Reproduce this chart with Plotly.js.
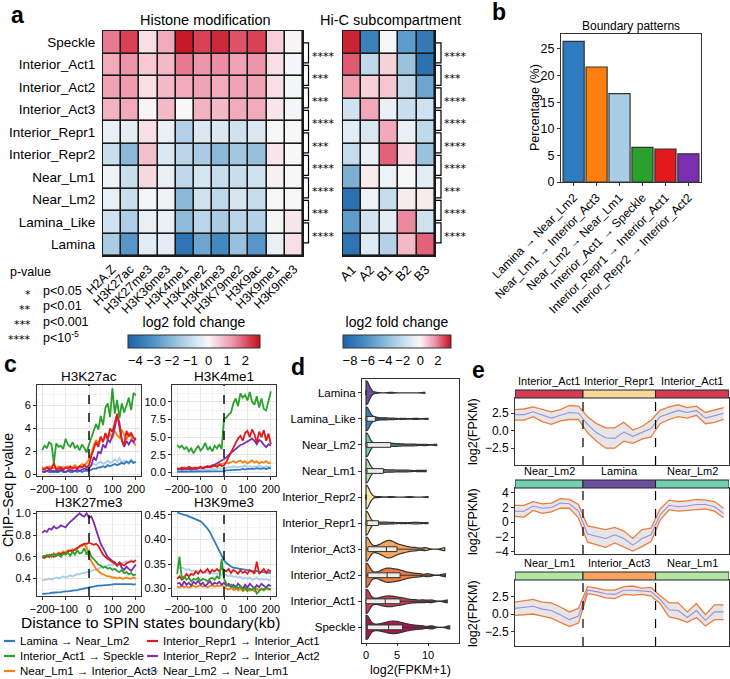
<!DOCTYPE html>
<html>
<head>
<meta charset="utf-8">
<script src="https://cdn.plot.ly/plotly-3.0.1.min.js"></script>
<style>
  html, body { margin: 0; padding: 0; background: #fff; }
  #chart { width: 730px; height: 679px; }
</style>
</head>
<body>
<div id="chart"></div>
<script>
const W = 730, H = 679;
const FONT = 'Liberation Sans, Arial, sans-serif';
const px = v => v / W;
const py = v => 1 - v / H;
const xdom = (a, b) => [a / W, b / W];
const ydom = (top, bottom) => [1 - bottom / H, 1 - top / H];

// ---------- panel a: heatmaps ----------
const states = ['Speckle', 'Interior_Act1', 'Interior_Act2', 'Interior_Act3', 'Interior_Repr1',
  'Interior_Repr2', 'Near_Lm1', 'Near_Lm2', 'Lamina_Like', 'Lamina'];
const histoneMarks = ['H2A.Z', 'H3K27ac', 'H3K27me3', 'H3K36me3', 'H3K4me1', 'H3K4me2',
  'H3K4me3', 'H3K79me2', 'H3K9ac', 'H3K9me1', 'H3K9me3'];
const histoneFC = [
  [1.6, 2.2, 0.3, 1.0, 2.7, 2.2, 2.5, 2.0, 2.2, 0.5, 0.05],
  [1.0, 1.3, 0.6, 0.8, 1.6, 1.3, 1.4, 1.1, 1.3, 0.3, -0.1],
  [1.1, 1.2, 0.3, 0.8, 1.0, 1.1, 1.0, 1.1, 1.1, 0.3, -0.1],
  [0.9, 1.0, 0.05, 0.8, 0.0, 0.9, 0.8, 1.0, 1.0, 0.2, -0.1],
  [-0.3, -0.4, 0.3, -0.3, -1.3, -0.6, -0.6, -0.8, -0.6, 0.0, 0.0],
  [-0.9, -2.0, 0.7, -0.6, -1.2, -1.5, -2.0, -1.6, -1.8, 0.2, 0.0],
  [-0.2, -0.9, 0.4, -0.3, -1.1, -0.7, -1.0, -0.9, -0.8, 0.1, 0.0],
  [-0.3, -0.9, -0.1, -0.2, -2.0, -0.8, -1.1, -0.7, -1.0, -0.05, 0.0],
  [-0.8, -1.4, -0.3, -0.3, -1.9, -1.2, -1.5, -1.2, -1.3, -0.1, 0.2],
  [-1.5, -2.9, -0.5, -0.4, -3.9, -2.5, -3.3, -1.8, -2.9, -0.3, 0.3]
];
const subcomps = ['A1', 'A2', 'B1', 'B2', 'B3'];
const hicFC = [
  [3.2, -7.0, 0.0, -5.5, -7.5],
  [2.4, -2.2, 0.6, -3.5, -8.0],
  [1.4, 0.6, 0.8, -2.2, -5.0],
  [-1.6, 1.3, -0.6, -1.8, -1.6],
  [-0.9, -1.3, 1.3, -0.6, -2.2],
  [-2.0, -0.6, 2.3, 0.4, -3.5],
  [-4.5, 0.2, -0.5, 0.0, -0.9],
  [-8.0, -0.5, -2.0, 0.2, 0.2],
  [-5.5, -1.5, -0.8, 1.8, -1.6],
  [-7.8, -1.1, -2.6, 1.0, 2.3]
];
const histoneStars = ['****', '***', '***', '****', '***', '****', '****', '***', '****'];
const hicStars = ['****', '***', '****', '****', '****', '****', '***', '****', '****'];
const pLevels = ['*', '**', '***', '****'];
const pTexts = ['p<0.05', 'p<0.01', 'p<0.001', 'p<10<sup>-5</sup>'];

// ---------- panel b ----------
const patterns = ['Lamina → Near_Lm2', 'Near_Lm1 → Interior_Act3', 'Near_Lm2 → Near_Lm1',
  'Interior_Act1 → Speckle', 'Interior_Repr1 → Interior_Act1', 'Interior_Repr2 → Interior_Act2'];
const patternPct = [26.4, 21.6, 16.6, 6.5, 6.2, 5.3];

// ---------- panel c ----------
const seriesNames = ['Lamina → Near_Lm2', 'Interior_Act1 → Speckle', 'Near_Lm1 → Interior_Act3',
  'Interior_Repr1 → Interior_Act1', 'Interior_Repr2 → Interior_Act2', 'Near_Lm2 → Near_Lm1'];
const seriesColors = ['#2f7bbf', '#2ca02c', '#ff7f0e', '#e31a1c', '#7a2fb0', '#a9cde6'];
const distKb = [-200, -190, -180, -170, -160, -150, -140, -130, -120, -110, -100, -90, -80, -70,
  -60, -50, -40, -30, -20, -10, 0, 10, 20, 30, 40, 50, 60, 70, 80, 90, 100, 110, 120, 130, 140,
  150, 160, 170, 180, 190, 200];
const h3k27ac = [
  [0.2, 0.2, 0.3, 0.2, 0.2, 0.3, 0.2, 0.2, 0.3, 0.2, 0.2, 0.3, 0.2, 0.2, 0.3, 0.2, 0.3, 0.2, 0.3, 0.3, 0.3, 0.4, 0.5, 0.5, 0.6, 0.6, 0.7, 0.6, 0.8, 0.7, 0.8, 0.9, 0.8, 0.9, 1.0, 0.9, 1.1, 1.0, 1.2, 1.0, 1.1],
  [2.1, 2.5, 2.3, 2.8, 2.6, 1.0, 2.7, 2.4, 2.5, 2.2, 3.1, 2.6, 2.4, 2.8, 2.3, 2.5, 2.1, 2.6, 2.3, 1.9, 2.6, 3.2, 3.6, 4.4, 3.9, 5.1, 4.3, 5.8, 6.2, 5.0, 7.5, 5.3, 6.5, 4.9, 6.2, 5.4, 6.0, 6.7, 5.6, 7.1, 6.9],
  [0.6, 0.5, 0.6, 0.7, 0.5, 0.6, 0.5, 0.7, 0.6, 0.5, 0.6, 0.7, 0.5, 0.6, 0.8, 0.6, 0.7, 0.9, 0.8, 1.0, 1.3, 1.8, 2.5, 3.0, 2.7, 3.2, 2.9, 3.4, 3.0, 3.6, 3.1, 3.8, 3.4, 3.2, 3.9, 3.5, 3.0, 3.6, 3.3, 2.8, 2.5],
  [0.5, 0.4, 0.6, 0.5, 0.5, 1.0, 0.4, 0.5, 0.6, 0.4, 0.6, 0.5, 0.7, 0.5, 0.6, 0.5, 0.7, 0.6, 0.8, 0.6, 0.8, 1.6, 2.3, 2.8, 2.4, 3.3, 2.8, 3.6, 3.1, 4.0, 3.7, 4.4, 5.3, 4.1, 3.0, 2.5, 3.8, 3.3, 3.6, 3.2, 3.0],
  [0.3, 0.2, 0.3, 0.4, 0.3, 0.2, 0.3, 0.3, 0.4, 0.3, 0.2, 0.3, 0.4, 0.3, 0.3, 0.4, 0.3, 0.4, 0.5, 0.4, 0.5, 0.8, 1.5, 1.2, 2.0, 1.8, 2.6, 2.3, 3.0, 2.8, 3.4, 4.0, 5.2, 4.5, 3.0, 2.4, 2.9, 2.6, 3.0, 2.8, 3.2],
  [0.5, 0.6, 0.5, 0.6, 0.7, 0.5, 0.6, 0.5, 0.6, 0.7, 0.6, 0.5, 0.6, 0.5, 0.7, 0.6, 0.5, 0.6, 0.7, 0.6, 0.6, 0.8, 0.9, 0.8, 1.0, 1.1, 0.9, 1.0, 1.2, 1.0, 1.1, 1.3, 1.1, 1.4, 1.0, 1.2, 1.1, 0.9, 1.3, 1.0, 1.1]
];
const h3k4me1 = [
  [0.1, 0.1, 0.2, 0.1, 0.1, 0.2, 0.1, 0.1, 0.2, 0.1, 0.1, 0.2, 0.1, 0.2, 0.1, 0.2, 0.2, 0.1, 0.2, 0.2, 0.2, 0.3, 0.3, 0.3, 0.4, 0.3, 0.4, 0.4, 0.5, 0.4, 0.5, 0.5, 0.4, 0.5, 0.6, 0.5, 0.5, 0.6, 0.5, 0.6, 0.6],
  [3.9, 3.5, 3.8, 3.3, 3.6, 3.0, 3.4, 2.7, 3.3, 3.8, 3.1, 3.5, 4.2, 3.2, 3.6, 3.0, 3.8, 3.4, 4.0, 3.3, 7.6, 7.8, 8.2, 8.5, 9.8, 10.5, 9.4, 11.2, 10.6, 11.0, 10.2, 11.4, 10.0, 9.6, 10.8, 9.2, 10.5, 9.0, 8.8, 10.2, 11.5],
  [0.6, 0.5, 0.6, 0.7, 0.6, 0.5, 0.6, 0.7, 0.6, 0.7, 0.8, 0.7, 0.8, 0.9, 0.8, 1.0, 0.9, 1.1, 1.2, 1.2, 1.3, 1.4, 1.3, 1.5, 1.6, 1.4, 1.5, 1.7, 1.4, 1.6, 1.3, 1.5, 1.7, 1.4, 1.6, 1.3, 1.5, 1.4, 1.6, 1.3, 1.4],
  [0.6, 0.5, 0.7, 0.6, 0.5, 0.8, 0.6, 0.5, 0.7, 0.6, 0.8, 0.6, 0.7, 0.9, 0.7, 0.8, 1.0, 0.8, 1.1, 0.9, 1.0, 1.5, 2.2, 3.0, 3.5, 4.2, 4.8, 5.2, 4.5, 5.6, 5.9, 5.0, 6.1, 5.4, 4.2, 5.8, 5.0, 6.0, 4.5, 5.5, 4.0],
  [0.4, 0.5, 0.4, 0.5, 0.6, 0.5, 0.4, 0.6, 0.5, 0.6, 0.7, 0.6, 0.8, 0.7, 0.9, 1.0, 1.1, 1.3, 1.5, 1.6, 1.8, 2.1, 2.5, 2.8, 3.0, 3.4, 3.6, 3.9, 4.0, 4.2, 4.3, 4.6, 4.8, 4.5, 4.0, 4.6, 4.4, 3.9, 3.6, 4.0, 3.8],
  [0.3, 0.4, 0.3, 0.4, 0.3, 0.4, 0.5, 0.3, 0.4, 0.3, 0.4, 0.5, 0.4, 0.3, 0.4, 0.5, 0.4, 0.5, 0.6, 0.5, 0.6, 0.7, 0.8, 0.7, 0.9, 0.8, 0.7, 0.9, 0.8, 1.0, 0.8, 0.9, 0.7, 0.9, 0.8, 1.0, 0.8, 0.7, 0.9, 0.8, 0.9]
];
const h3k27me3 = [
  [0.26, 0.26, 0.265, 0.265, 0.27, 0.27, 0.27, 0.275, 0.275, 0.28, 0.28, 0.28, 0.285, 0.29, 0.29, 0.295, 0.30, 0.305, 0.31, 0.315, 0.32, 0.325, 0.33, 0.33, 0.335, 0.335, 0.34, 0.34, 0.34, 0.345, 0.345, 0.35, 0.35, 0.35, 0.355, 0.35, 0.355, 0.35, 0.35, 0.345, 0.35],
  [0.60, 0.61, 0.60, 0.62, 0.60, 0.63, 0.61, 0.62, 0.60, 0.63, 0.62, 0.64, 0.61, 0.65, 0.62, 0.66, 0.63, 0.64, 0.68, 0.62, 0.66, 0.60, 0.58, 0.55, 0.53, 0.52, 0.50, 0.51, 0.49, 0.50, 0.48, 0.49, 0.47, 0.46, 0.48, 0.45, 0.46, 0.44, 0.45, 0.43, 0.44],
  [0.59, 0.60, 0.62, 0.60, 0.61, 0.63, 0.62, 0.64, 0.63, 0.65, 0.64, 0.66, 0.65, 0.67, 0.66, 0.68, 0.69, 0.70, 0.71, 0.69, 0.60, 0.56, 0.52, 0.49, 0.47, 0.45, 0.44, 0.43, 0.42, 0.42, 0.41, 0.41, 0.40, 0.41, 0.40, 0.40, 0.41, 0.40, 0.40, 0.41, 0.40],
  [0.60, 0.59, 0.61, 0.60, 0.62, 0.60, 0.61, 0.63, 0.62, 0.64, 0.63, 0.65, 0.66, 0.65, 0.67, 0.68, 0.70, 0.71, 0.72, 0.72, 0.73, 0.72, 0.71, 0.72, 0.70, 0.66, 0.62, 0.60, 0.58, 0.57, 0.55, 0.54, 0.52, 0.55, 0.53, 0.52, 0.54, 0.55, 0.56, 0.55, 0.57],
  [0.82, 0.84, 0.83, 0.86, 0.85, 0.88, 0.86, 0.87, 0.89, 0.88, 0.87, 0.90, 0.92, 0.94, 0.96, 0.98, 1.00, 0.98, 0.97, 1.00, 0.96, 0.97, 0.92, 0.85, 0.78, 0.72, 0.68, 0.64, 0.60, 0.58, 0.56, 0.55, 0.52, 0.54, 0.50, 0.48, 0.51, 0.49, 0.47, 0.50, 0.53],
  [0.38, 0.39, 0.39, 0.40, 0.39, 0.40, 0.41, 0.40, 0.41, 0.42, 0.41, 0.42, 0.43, 0.42, 0.43, 0.44, 0.44, 0.45, 0.45, 0.46, 0.46, 0.47, 0.48, 0.48, 0.49, 0.50, 0.51, 0.51, 0.52, 0.53, 0.52, 0.54, 0.53, 0.55, 0.54, 0.55, 0.56, 0.55, 0.57, 0.56, 0.57]
];
const h3k9me3 = [
  [0.455, 0.453, 0.452, 0.450, 0.449, 0.447, 0.446, 0.444, 0.442, 0.440, 0.437, 0.433, 0.428, 0.422, 0.415, 0.405, 0.395, 0.385, 0.375, 0.365, 0.358, 0.352, 0.348, 0.345, 0.343, 0.342, 0.341, 0.340, 0.340, 0.338, 0.337, 0.337, 0.336, 0.335, 0.336, 0.334, 0.334, 0.333, 0.333, 0.332, 0.332],
  [0.330, 0.365, 0.320, 0.325, 0.318, 0.322, 0.315, 0.320, 0.318, 0.322, 0.316, 0.320, 0.318, 0.315, 0.320, 0.322, 0.318, 0.325, 0.320, 0.360, 0.320, 0.310, 0.305, 0.308, 0.302, 0.305, 0.300, 0.305, 0.298, 0.302, 0.295, 0.300, 0.298, 0.302, 0.290, 0.295, 0.300, 0.298, 0.302, 0.300, 0.298],
  [0.305, 0.302, 0.306, 0.303, 0.305, 0.302, 0.304, 0.306, 0.303, 0.305, 0.307, 0.304, 0.306, 0.303, 0.305, 0.307, 0.304, 0.306, 0.305, 0.307, 0.304, 0.300, 0.298, 0.302, 0.297, 0.300, 0.296, 0.300, 0.295, 0.298, 0.300, 0.296, 0.298, 0.295, 0.300, 0.297, 0.299, 0.296, 0.300, 0.298, 0.299],
  [0.320, 0.325, 0.318, 0.322, 0.330, 0.325, 0.330, 0.328, 0.335, 0.330, 0.338, 0.332, 0.335, 0.340, 0.332, 0.338, 0.335, 0.340, 0.335, 0.342, 0.338, 0.335, 0.340, 0.332, 0.338, 0.335, 0.330, 0.338, 0.332, 0.335, 0.330, 0.338, 0.335, 0.330, 0.355, 0.330, 0.335, 0.340, 0.332, 0.338, 0.335],
  [0.310, 0.312, 0.305, 0.315, 0.308, 0.312, 0.306, 0.314, 0.310, 0.316, 0.308, 0.312, 0.305, 0.310, 0.315, 0.308, 0.312, 0.310, 0.314, 0.308, 0.312, 0.306, 0.310, 0.304, 0.308, 0.302, 0.310, 0.305, 0.300, 0.308, 0.302, 0.310, 0.305, 0.300, 0.307, 0.303, 0.310, 0.305, 0.302, 0.308, 0.305],
  [0.345, 0.342, 0.343, 0.340, 0.338, 0.340, 0.336, 0.337, 0.335, 0.336, 0.333, 0.334, 0.332, 0.333, 0.330, 0.332, 0.330, 0.331, 0.330, 0.328, 0.330, 0.328, 0.325, 0.327, 0.324, 0.325, 0.322, 0.324, 0.320, 0.322, 0.320, 0.322, 0.318, 0.320, 0.322, 0.318, 0.320, 0.318, 0.320, 0.317, 0.318]
];

// ---------- panel d: expression samples per SPIN state ----------
const exprSpeckle = [0, 0, 0, 0, 0, 0, 0, 0.4, 1, 1.6, 2.2, 2.7, 3.1, 3.5, 3.8, 4.1, 4.4, 4.7, 5, 5.3, 5.7, 6.1, 6.6, 7.2, 8, 9, 10.5, 13.5];
const exprAct1 = [0, 0, 0, 0, 0, 0, 0, 0, 0.3, 0.8, 1.4, 2, 2.4, 2.8, 3.1, 3.4, 3.7, 4, 4.3, 4.6, 5, 5.4, 5.8, 6.3, 7, 8, 9.2, 10.5, 13.1];
const exprAct2 = [0, 0, 0, 0, 0, 0, 0, 0.4, 0.9, 1.6, 2.2, 2.6, 2.9, 3.2, 3.4, 3.7, 3.9, 4.2, 4.5, 4.8, 5.1, 5.4, 5.8, 6.2, 6.8, 7.5, 8.5, 10, 12.8];
const exprAct3 = [0, 0, 0, 0, 0, 0, 0, 0.3, 0.8, 1.5, 2, 2.4, 2.7, 3, 3.2, 3.4, 3.6, 3.8, 4, 4.2, 4.4, 4.7, 5, 5.4, 5.8, 6.3, 7, 8, 9.5, 12.7];
const exprRepr1 = [0, 0, 0, 0, 0, 0, 0, 0, 0, 0, 0, 0, 0, 0, 0, 0, 0, 0, 0, 0.3, 0.8, 1.5, 2, 2.8, 3.5, 4.5, 6, 7.5, 8.5, 10];
const exprRepr2 = [0, 0, 0, 0, 0, 0, 0, 0, 0, 0, 0, 0, 0, 0, 0, 0, 0, 0, 0, 0, 0, 0, 0, 0, 0.3, 0.8, 2, 4, 7, 10];
const exprNearLm1 = [0, 0, 0, 0, 0, 0, 0, 0, 0, 0, 0, 0, 0, 0, 0, 0, 0, 0.3, 0.7, 1.2, 1.8, 2.3, 2.8, 3.5, 4.2, 5, 6, 7, 8.5, 9.7];
const exprNearLm2 = [0, 0, 0, 0, 0, 0, 0, 0, 0, 0, 0, 0, 0, 0, 0, 0, 0.3, 0.8, 1.5, 2.3, 3, 3.5, 4, 4.6, 5.2, 6, 7, 8, 9.5, 11.4];
const exprLaminaLike = [0, 0, 0, 0, 0, 0, 0, 0, 0, 0, 0, 0, 0, 0, 0, 0, 0, 0, 0.2, 0.4, 0.8, 1.2, 1.5, 2, 2.8, 3.5, 4.5, 6, 8, 10];
const exprLamina = [0, 0, 0, 0, 0, 0, 0, 0, 0, 0, 0, 0, 0, 0, 0, 0, 0, 0, 0, 0, 0, 0, 0, 0, 0, 0.2, 0.6, 1.5, 4, 9.5];
const exprByState = [exprSpeckle, exprAct1, exprAct2, exprAct3, exprRepr1, exprRepr2,
  exprNearLm1, exprNearLm2, exprLaminaLike, exprLamina];

// ---------- panel e: expression around domain boundaries ----------
const ePos = [0, 1, 2, 3, 4, 5, 6, 7, 8, 9, 10, 11, 12, 13, 14, 15, 16, 17, 18, 19, 20, 21, 22, 23];
const eSegments = [
  ['Interior_Act1', 'Interior_Repr1', 'Interior_Act1'],
  ['Near_Lm2', 'Lamina', 'Near_Lm2'],
  ['Near_Lm1', 'Interior_Act3', 'Near_Lm1']
];
const e1Upper = [3.0, 3.1, 3.4, 3.0, 2.7, 3.0, 3.6, 3.5, 2.0, 1.0, 0.4, 0.4, 1.2, 0.1, 0.6, 1.5, 2.9, 3.4, 3.7, 3.3, 3.5, 2.6, 3.0, 3.3];
const e1Lower = [1.5, 1.5, 2.0, 1.3, 0.9, 1.4, 1.6, 1.6, -0.3, -1.5, -2.5, -2.5, -1.5, -1.8, -1.2, -0.9, 1.0, 1.6, 2.0, 1.8, 2.2, 1.0, 1.2, 1.6];
const e1Mean = [2.3, 2.3, 2.7, 2.2, 1.8, 2.2, 2.6, 2.5, 0.9, -0.3, -1.0, -1.1, -0.2, -0.8, -0.3, 0.3, 2.0, 2.5, 2.9, 2.6, 2.9, 1.8, 2.1, 2.5];
const e2Upper = [2.3, 2.3, 2.8, 2.5, 2.6, 3.2, 3.1, 2.4, -0.5, -0.8, -1.0, -0.7, -1.2, -2.2, -1.0, -0.8, 1.8, 3.0, 2.8, 2.9, 3.1, 3.0, 2.8, 1.9];
const e2Lower = [0.8, 0.7, 1.6, 1.2, 1.4, 1.9, 1.9, 0.6, -2.7, -3.1, -3.4, -2.8, -3.3, -3.9, -3.3, -2.6, 0.3, 1.7, 1.5, 1.6, 1.8, 1.8, 1.5, 0.6];
const e2Mean = [1.5, 1.5, 2.2, 1.9, 2.0, 2.6, 2.5, 1.5, -1.6, -1.9, -2.2, -1.7, -2.2, -3.1, -2.2, -1.7, 1.0, 2.3, 2.1, 2.2, 2.4, 2.4, 2.1, 1.2];
const e3Upper = [1.7, 1.9, 2.1, 1.7, 1.6, 1.0, 0.3, 0.8, 3.9, 3.7, 3.4, 3.4, 3.9, 4.0, 3.7, 3.8, 2.6, 1.6, 1.6, 0.3, 1.5, -0.1, 1.3, 1.3];
const e3Lower = [-0.2, -0.1, 0.0, -0.3, -0.6, -1.2, -1.8, -1.3, 2.9, 2.7, 2.3, 2.2, 2.8, 2.7, 2.8, 2.6, 1.5, -0.4, -0.7, -1.2, -0.5, -1.7, -0.8, -0.8];
const e3Mean = [0.8, 0.9, 1.1, 0.7, 0.5, -0.1, -0.8, -0.3, 3.4, 3.2, 2.9, 2.8, 3.4, 3.4, 3.3, 3.2, 2.1, 0.6, 0.5, -0.5, 0.5, -0.9, 0.3, 0.3];

const stateColors = {
  Speckle: '#a8184c', Interior_Act1: '#d23c55', Interior_Act2: '#f2793f', Interior_Act3: '#f8a65f',
  Interior_Repr1: '#f9d79b', Interior_Repr2: '#fbe8a6', Near_Lm1: '#b2e5a6', Near_Lm2: '#74cfb0',
  Lamina_Like: '#3a7fc0', Lamina: '#6a4f9e'
};

// diverging colour scale with white at zero
function divScale(zmin, zmax) {
  const m = -zmin / (zmax - zmin);
  const r = 1 - m;
  return [[0, '#1d63a9'], [m * 0.3, '#4b8fc4'], [m * 0.62, '#9fc5e0'], [m * 0.85, '#d8e7f2'],
    [m, '#f8f7f7'], [m + r * 0.25, '#f5c0cd'], [m + r * 0.5, '#ec8ea3'], [m + r * 0.8, '#d93c52'],
    [1, '#c1121f']];
}

const traces = [];
const shapes = [];
const annotations = [];

function txt(x, y, text, size, extra) {
  return Object.assign({
    xref: 'paper', yref: 'paper', x: px(x), y: py(y), text: text, showarrow: false,
    font: { family: FONT, size: size, color: '#000' }, xanchor: 'center', yanchor: 'middle'
  }, extra || {});
}

// heatmaps
const hmZ = [[-4.4, 2.8], [-8.8, 3.5]];
function cbar(xc, len, vals) {
  return {
    orientation: 'h', x: px(xc), xanchor: 'center', y: py(319), yanchor: 'top',
    len: len / W, thickness: 13, outlinewidth: 1, outlinecolor: '#333', xpad: 0, ypad: 0,
    title: { text: 'log2 fold change', side: 'top', font: { family: FONT, size: 14 } },
    tickvals: vals, ticks: '', tickfont: { family: FONT, size: 13 }
  };
}
traces.push({
  type: 'heatmap', x: histoneMarks, y: states, z: histoneFC, xaxis: 'x', yaxis: 'y',
  zmin: hmZ[0][0], zmax: hmZ[0][1], colorscale: divScale(hmZ[0][0], hmZ[0][1]),
  xgap: 1.6, ygap: 1.6, hoverinfo: 'skip', colorbar: cbar(194, 132, [-4, -3, -2, -1, 0, 1, 2])
});
traces.push({
  type: 'heatmap', x: subcomps, y: states, z: hicFC, xaxis: 'x2', yaxis: 'y2',
  zmin: hmZ[1][0], zmax: hmZ[1][1], colorscale: divScale(hmZ[1][0], hmZ[1][1]),
  xgap: 1.6, ygap: 1.6, hoverinfo: 'skip', colorbar: cbar(397, 108, [-8, -6, -4, -2, 0, 2])
});
[['x', 'y'], ['x2', 'y2']].forEach(([xa, ya]) => {
  shapes.push({ type: 'rect', xref: xa + ' domain', yref: ya + ' domain', x0: 0, x1: 1, y0: 0, y1: 1,
    fillcolor: '#1a1a1a', line: { width: 0 }, layer: 'below' });
});

// significance brackets
function brackets(stars, ya, xLeft) {
  stars.forEach((s, i) => {
    const a = i + 0.03, b = i + 0.92;
    shapes.push({ type: 'path', xref: 'paper', yref: ya,
      path: `M ${px(xLeft)},${a} L ${px(xLeft + 5)},${a} L ${px(xLeft + 5)},${b} L ${px(xLeft)},${b}`,
      line: { color: '#000', width: 1.2 } });
    annotations.push({ xref: 'paper', yref: ya, x: px(xLeft + 6), y: i + 0.5, text: s,
      showarrow: false, xanchor: 'left', yanchor: 'middle', yshift: -3,
      font: { family: 'DejaVu Sans, sans-serif', size: 11, color: '#000' } });
  });
}
brackets(histoneStars, 'y', 303.5);
brackets(hicStars, 'y2', 436);

// bar chart
traces.push({
  type: 'bar', x: patterns, y: patternPct, xaxis: 'x3', yaxis: 'y3', hoverinfo: 'skip',
  marker: { color: patterns.map(p => seriesColors[seriesNames.indexOf(p)]), line: { color: '#333', width: 1.2 } }
});

// line plots in c
const cMarks = [['H3K27ac', h3k27ac, 'x4', 'y4'], ['H3K4me1', h3k4me1, 'x5', 'y5'],
  ['H3K27me3', h3k27me3, 'x6', 'y6'], ['H3K9me3', h3k9me3, 'x7', 'y7']];
const drawOrder = [5, 0, 2, 4, 3, 1];
cMarks.forEach(([mark, data, xa, ya]) => {
  drawOrder.forEach(k => {
    traces.push({ type: 'scatter', mode: 'lines', x: distKb, y: data[k], xaxis: xa, yaxis: ya,
      line: { color: seriesColors[k], width: 1.8 }, hoverinfo: 'skip', name: seriesNames[k] });
  });
  shapes.push({ type: 'line', xref: xa, yref: ya + ' domain', x0: 0, x1: 0, y0: 0, y1: 1,
    line: { color: '#000', width: 1.4, dash: 'dash' } });
});

// violins in d
states.forEach((st, i) => {
  traces.push({
    type: 'violin', orientation: 'h', x: exprByState[i], y: exprByState[i].map(() => st),
    xaxis: 'x8', yaxis: 'y8', name: st, side: 'both', width: 0.92, scalemode: 'width',
    spanmode: 'hard', bandwidth: 0.5, points: false, fillcolor: stateColors[st], opacity: 1,
    line: { color: '#333', width: 1.2 }, hoverinfo: 'skip',
    box: { visible: true, width: 0.2, fillcolor: '#ececec', line: { color: '#333', width: 1 } },
    meanline: { visible: false }
  });
});

// ribbons in e
const eData = [[e1Lower, e1Upper, e1Mean], [e2Lower, e2Upper, e2Mean], [e3Lower, e3Upper, e3Mean]];
const eAxes = [['x9', 'y9', 398], ['x10', 'y10', 488], ['x11', 'y11', 580]];
const eBreaks = [0, 7.5, 15.5, 23.6];
eData.forEach(([lo, up, mu], j) => {
  const [xa, ya, top] = eAxes[j];
  traces.push({ type: 'scatter', mode: 'lines', x: ePos, y: lo, xaxis: xa, yaxis: ya,
    line: { color: '#f07a3a', width: 1.3 }, hoverinfo: 'skip' });
  traces.push({ type: 'scatter', mode: 'lines', x: ePos, y: up, xaxis: xa, yaxis: ya, fill: 'tonexty',
    fillcolor: 'rgba(200,200,205,0.45)', line: { color: '#f07a3a', width: 1.3 }, hoverinfo: 'skip' });
  traces.push({ type: 'scatter', mode: 'lines', x: ePos, y: mu, xaxis: xa, yaxis: ya,
    line: { color: '#9a8fd8', width: 1.1 }, hoverinfo: 'skip' });
  [7.5, 15.5].forEach(b => shapes.push({ type: 'line', xref: xa, yref: ya + ' domain', x0: b, x1: b,
    y0: 0, y1: 1, line: { color: '#000', width: 1.2, dash: 'dash' } }));
  eSegments[j].forEach((seg, s) => {
    shapes.push({ type: 'rect', xref: xa, yref: 'paper', x0: eBreaks[s], x1: eBreaks[s + 1],
      y0: py(top), y1: py(top - 8), fillcolor: stateColors[seg], line: { color: '#222', width: 1 } });
    annotations.push({ xref: xa, yref: 'paper', x: (eBreaks[s] + eBreaks[s + 1]) / 2, y: py(top - 9),
      text: seg, showarrow: false, yanchor: 'bottom', font: { family: FONT, size: 11, color: '#000' } });
  });
  annotations.push(txt(473, top + 33, 'log2(FPKM)', 12.5, { textangle: -90 }));
});

// texts
annotations.push(txt(17, 15, '<b>a</b>', 23), txt(499, 12, '<b>b</b>', 23), txt(10, 364, '<b>c</b>', 23),
  txt(298, 367, '<b>d</b>', 23), txt(478, 370, '<b>e</b>', 23));
annotations.push(txt(205, 20, 'Histone modification', 14.5), txt(390, 20, 'Hi-C subcompartment', 14.5));
annotations.push(txt(8, 272, 'p-value', 12.5, { xanchor: 'left' }));
pLevels.forEach((s, i) => {
  const yy = 291 + i * 15.3;
  annotations.push(txt(33, yy + 3, s, 11, { xanchor: 'right', font: { family: 'DejaVu Sans, sans-serif', size: 11, color: '#000' } }));
  annotations.push(txt(41, yy, pTexts[i], 12.5, { xanchor: 'left' }));
});
annotations.push(txt(631, 26, 'Boundary patterns', 12), txt(535, 108, 'Percentage (%)', 12.5, { textangle: -90 }));
annotations.push(txt(89, 376, 'H3K27ac', 13.5), txt(224, 376, 'H3K4me1', 13.5),
  txt(89, 502, 'H3K27me3', 13.5), txt(224, 502, 'H3K9me3', 13.5));
annotations.push(txt(8, 490, 'ChIP−Seq p-value', 14, { textangle: -90 }),
  txt(150, 622, 'Distance to SPIN states boundary(kb)', 15.5));
annotations.push(txt(410, 670, 'log2(FPKM+1)', 12.5));

// legend for c (two columns)
const legendSlots = [[4, 641], [4, 656], [4, 671], [147, 641], [147, 656], [147, 671]];
seriesNames.forEach((nm, k) => {
  const [lx, ly] = legendSlots[k];
  shapes.push({ type: 'line', xref: 'paper', yref: 'paper', x0: px(lx), x1: px(lx + 11),
    y0: py(ly), y1: py(ly), line: { color: seriesColors[k], width: 2.2 } });
  annotations.push(txt(lx + 14, ly, nm, 11.5, { xanchor: 'left' }));
});

// axes
const tickFont = { family: FONT, size: 12, color: '#000' };
const cTickFont = { family: FONT, size: 11, color: '#000' };
const frame = { showline: true, mirror: true, linecolor: '#333', linewidth: 1, zeroline: false };
function cAxes(xd, yd, yr, dtick, minor, fmt) {
  return [
    Object.assign({ domain: xd, range: [-222, 222], tickvals: [-200, -100, 0, 100, 200], ticks: 'outside',
      tickangle: 0, ticklen: 3, tickcolor: '#333', tickfont: cTickFont, gridcolor: '#e6e6e6',
      minor: { tickvals: [-150, -50, 50, 150], showgrid: true, gridcolor: '#f3f3f3' } }, frame),
    Object.assign({ domain: yd, range: yr, dtick: dtick, tick0: 0, tickformat: fmt, ticks: 'outside',
      ticklen: 3, tickcolor: '#333', tickfont: cTickFont, gridcolor: '#e6e6e6',
      minor: { dtick: minor, showgrid: true, gridcolor: '#f3f3f3' } }, frame)
  ];
}
const [x4, y4] = cAxes(xdom(37, 141), ydom(385, 476), [-0.15, 7.8], 2, 1, '');
const [x5, y5] = cAxes(xdom(172, 276), ydom(385, 476), [-0.5, 12.4], 2.5, 1.25, '.1f');
const [x6, y6] = cAxes(xdom(37, 141), ydom(512, 596), [0.24, 1.012], 0.2, 0.1, '.1f');
const [x7, y7] = cAxes(xdom(172, 276), ydom(512, 596), [0.285, 0.456], 0.05, 0.025, '.2f');

function eAxesDef(yd, yr, dtick) {
  return [
    Object.assign({ domain: xdom(515, 729), range: [0, 23.6], showticklabels: false, ticks: '', showgrid: false }, frame),
    Object.assign({ domain: yd, range: yr, dtick: dtick, tick0: 0, tickformat: dtick === 2 ? '' : '.1f',
      ticks: 'outside', ticklen: 3, tickcolor: '#333', tickfont: tickFont, showgrid: false }, frame)
  ];
}
const [x9, y9] = eAxesDef(ydom(398, 465), [-4.9, 4.67], 2.5);
const [x10, y10] = eAxesDef(ydom(488, 554), [-4.3, 4.64], 2);
const [x11, y11] = eAxesDef(ydom(580, 646), [-4.57, 4.86], 2.5);

const heatX = { type: 'category', tickangle: -45, ticks: '', showgrid: false, zeroline: false,
  tickfont: { family: FONT, size: 12.5, color: '#000' }, showline: true, mirror: true, linecolor: '#1a1a1a', linewidth: 1 };
const heatY = { type: 'category', autorange: 'reversed', ticks: '', showgrid: false, zeroline: false,
  showline: true, mirror: true, linecolor: '#1a1a1a', linewidth: 1 };

const layout = {
  width: W, height: H, margin: { l: 0, r: 0, t: 0, b: 0 }, showlegend: false,
  paper_bgcolor: '#fff', plot_bgcolor: '#fff', font: { family: FONT, color: '#000' },
  violinmode: 'overlay', violingap: 0, bargap: 0.08,
  xaxis: Object.assign({ domain: xdom(103, 303) }, heatX),
  yaxis: Object.assign({ domain: ydom(31, 256), tickfont: { family: FONT, size: 13.5, color: '#000' },
    ticklabelstandoff: 4 }, heatY),
  xaxis2: Object.assign({ domain: xdom(343, 435) }, heatX, { tickfont: { family: FONT, size: 13, color: '#000' } }),
  yaxis2: Object.assign({ domain: ydom(31, 256), showticklabels: false }, heatY),
  xaxis3: Object.assign({ domain: xdom(561, 701), type: 'category', range: [-0.55, 5.55], tickangle: -45,
    ticks: 'outside', ticklen: 3, tickcolor: '#333', tickfont: { family: FONT, size: 12, color: '#000' }, showgrid: false }, frame),
  yaxis3: Object.assign({ domain: ydom(34, 182), range: [0, 27.8], dtick: 5, ticks: 'outside', ticklen: 3,
    tickcolor: '#333', tickfont: { family: FONT, size: 12.5, color: '#000' }, showgrid: false }, frame),
  xaxis4: Object.assign(x4, { anchor: 'y4' }), yaxis4: Object.assign(y4, { anchor: 'x4' }),
  xaxis5: Object.assign(x5, { anchor: 'y5' }), yaxis5: Object.assign(y5, { anchor: 'x5' }),
  xaxis6: Object.assign(x6, { anchor: 'y6' }), yaxis6: Object.assign(y6, { anchor: 'x6' }),
  xaxis7: Object.assign(x7, { anchor: 'y7' }), yaxis7: Object.assign(y7, { anchor: 'x7' }),
  xaxis8: Object.assign({ domain: xdom(362, 459), anchor: 'y8', range: [-0.65, 15], tickvals: [0, 5, 10],
    ticks: 'outside', ticklen: 2, tickcolor: '#333', tickfont: cTickFont, showgrid: false }, frame),
  yaxis8: Object.assign({ domain: ydom(379, 643), anchor: 'x8', type: 'category', categoryarray: states,
    categoryorder: 'array', range: [-0.6, 9.53], ticks: 'outside', ticklen: 3, tickcolor: '#333',
    tickfont: { family: FONT, size: 11.5, color: '#000' }, showgrid: false }, frame),
  xaxis9: Object.assign(x9, { anchor: 'y9' }), yaxis9: Object.assign(y9, { anchor: 'x9' }),
  xaxis10: Object.assign(x10, { anchor: 'y10' }), yaxis10: Object.assign(y10, { anchor: 'x10' }),
  xaxis11: Object.assign(x11, { anchor: 'y11' }), yaxis11: Object.assign(y11, { anchor: 'x11' }),
  shapes: shapes, annotations: annotations
};
layout.xaxis.anchor = 'y'; layout.yaxis.anchor = 'x';
layout.xaxis2.anchor = 'y2'; layout.yaxis2.anchor = 'x2';
layout.xaxis3.anchor = 'y3'; layout.yaxis3.anchor = 'x3';

Plotly.newPlot('chart', traces, layout, { staticPlot: true, displayModeBar: false });
</script>
</body>
</html>
